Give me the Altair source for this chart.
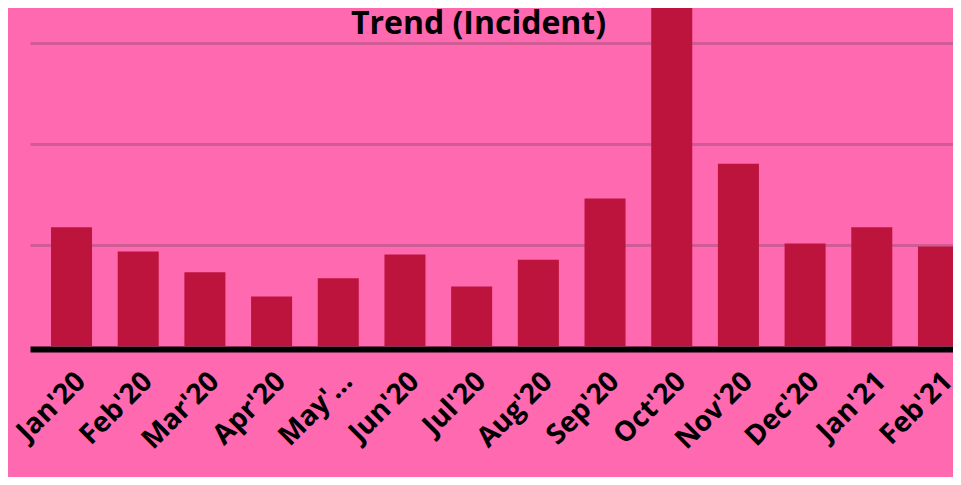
import altair as alt
import pandas as pd

months = ["Jan'20", "Feb'20", "Mar'20", "Apr'20", "May'20", "Jun'20", "Jul'20",
          "Aug'20", "Sep'20", "Oct'20", "Nov'20", "Dec'20", "Jan'21", "Feb'21"]
incidents = [23.5, 18.7, 14.6, 9.8, 13.4, 18.1, 11.8, 17.1, 29.2, 72.0, 36.1, 20.3, 23.5, 19.7]
y_ticks = [20, 40, 60]

df = pd.DataFrame({"month": months, "incidents": incidents})

FONT = "Open Sans"
BG = "#FF69B0"
BAR = "#BD143D"
GRID = "#D05C95"

chart = alt.Chart(df).mark_bar(color=BAR, clip=True).encode(
    x=alt.X("month:N", sort=months, title=None,
            scale=alt.Scale(range=[0, 950], paddingInner=0.385, paddingOuter=0.315),
            axis=alt.Axis(labelAngle=-45, labelFont=FONT, labelFontWeight="bold",
                          labelFontSize=28, labelColor="black", labelPadding=18,
                          labelLimit=96, ticks=False, domainColor="black",
                          domainWidth=6, offset=3, grid=False)),
    y=alt.Y("incidents:Q", title=None,
            scale=alt.Scale(domain=[0, 66.93], nice=False, zero=True, clamp=True),
            axis=alt.Axis(values=y_ticks, labels=False, ticks=False, domain=False,
                          grid=True, gridColor=GRID, gridWidth=3)),
).properties(
    width=923,
    height=338,
    title=alt.TitleParams("Trend (Incident)", font=FONT, fontSize=32, fontWeight="bold",
                          color="black", anchor="middle", offset=-58, baseline="alphabetic",
                          dx=-13),
    autosize=alt.AutoSizeParams(type="none"),
    padding={"left": 22, "top": 0, "right": 0, "bottom": 131},
    background=BG,
).configure_view(stroke=None, fill=BG)

chart.save("out.html", embed_options={"renderer": "svg", "actions": False})
